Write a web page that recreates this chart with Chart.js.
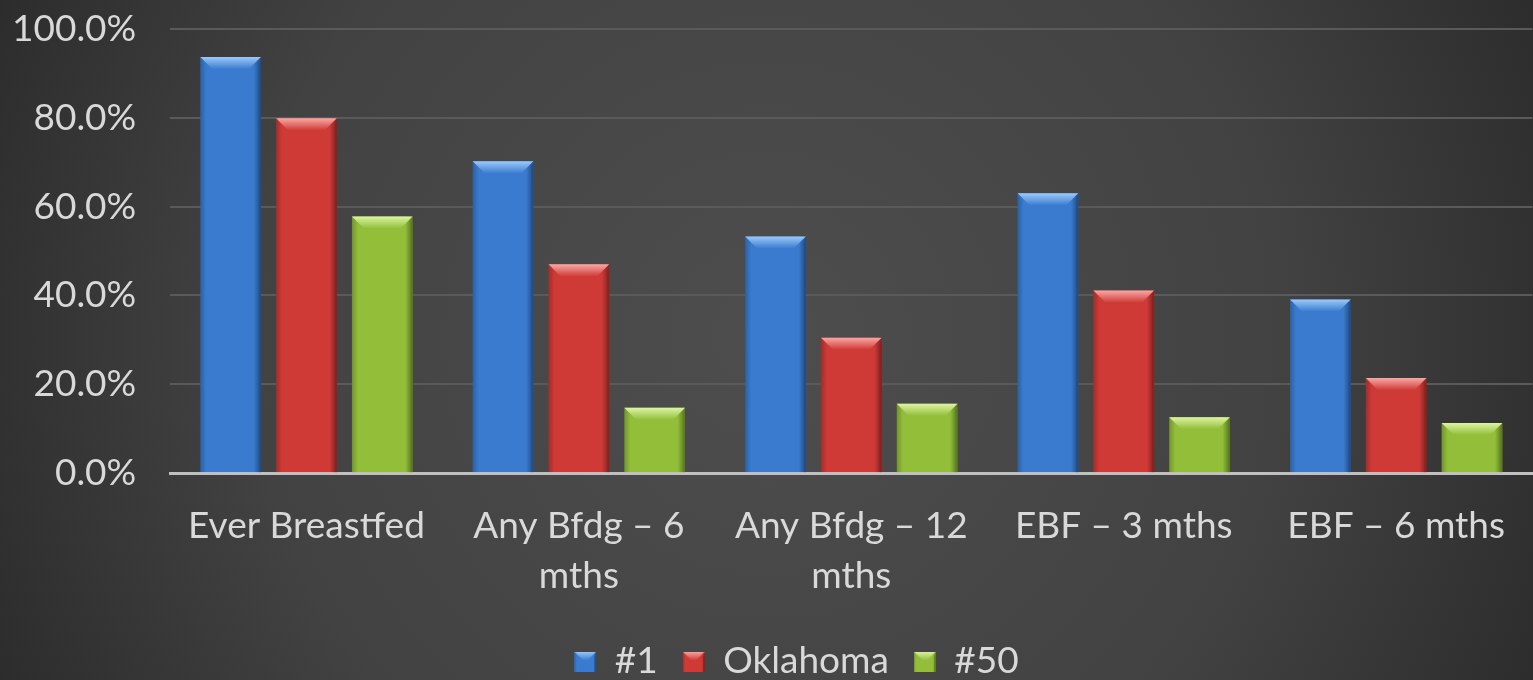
<!DOCTYPE html>
<html>
<head>
<meta charset="utf-8">
<script src="https://cdn.jsdelivr.net/npm/chart.js@4.4.1/dist/chart.umd.min.js"></script>
<style>
html,body{margin:0;padding:0;background:#333;}
#wrap{width:1533px;height:680px;position:relative;}
</style>
</head>
<body>
<div id="wrap"><canvas id="c" width="1533" height="680"></canvas></div>
<script>
const categories = ["Ever Breastfed", ["Any Bfdg \u2013 6", "mths"], ["Any Bfdg \u2013 12", "mths"], "EBF \u2013 3 mths", "EBF \u2013 6 mths"];
const seriesNames = ["#1", "Oklahoma", "#50"];
const rank1 = [93.7, 70.2, 53.3, 63.0, 39.1];
const oklahoma = [79.9, 47.0, 30.5, 41.1, 21.4];
const rank50 = [57.8, 14.7, 15.6, 12.6, 11.3];
const yTicks = [0, 20, 40, 60, 80, 100];

const colors = ["#3a7bd0", "#cf3a36", "#92be3a"];
const lightColors = ["#9ccaf9", "#f9a8a5", "#ddf5a2"];
const darkColors = ["#1f4f8f", "#8a2220", "#5c7f1e"];
const FONT = 'Lato';
const TEXT = '#d9d9d9';

const bgPlugin = {
  id: 'bg',
  beforeDraw(chart) {
    const ctx = chart.ctx, w = chart.width, h = chart.height;
    ctx.save();
    const g = ctx.createRadialGradient(w * 0.5, h * 0.5, 20, w * 0.5, h * 0.5, w * 0.6);
    g.addColorStop(0, '#4d4d4d');
    g.addColorStop(0.55, '#424242');
    g.addColorStop(1, '#272727');
    ctx.fillStyle = g;
    ctx.fillRect(0, 0, w, h);
    ctx.restore();
  }
};

function bevelBox(ctx, l, t, r, b, di, depth) {
  const d = Math.min(depth, (b - t) / 2);
  const hg = ctx.createLinearGradient(l, 0, r, 0);
  hg.addColorStop(0, 'rgba(0,0,0,0.22)');
  hg.addColorStop(0.1, 'rgba(0,0,0,0.0)');
  hg.addColorStop(0.88, 'rgba(0,0,0,0.0)');
  hg.addColorStop(1, 'rgba(0,0,0,0.4)');
  ctx.fillStyle = hg;
  ctx.fillRect(l, t, r - l, b - t);
  const tg = ctx.createLinearGradient(0, t, 0, t + d);
  tg.addColorStop(0, lightColors[di]);
  tg.addColorStop(1, colors[di]);
  ctx.fillStyle = tg;
  ctx.beginPath();
  ctx.moveTo(l, t);
  ctx.lineTo(r, t);
  ctx.lineTo(r - d, t + d);
  ctx.lineTo(l + d, t + d);
  ctx.closePath();
  ctx.fill();
  ctx.fillStyle = darkColors[di];
  ctx.globalAlpha = 0.7;
  ctx.fillRect(r - 2, t + d * 0.5, 2, b - t - d * 0.5);
  ctx.globalAlpha = 1;
}

// legend marker images (bevelled squares)
const markerImgs = colors.map((c, i) => {
  const cv = document.createElement('canvas');
  cv.width = 22; cv.height = 20;
  const x = cv.getContext('2d');
  x.fillStyle = c;
  x.fillRect(0, 0, 22, 20);
  bevelBox(x, 0, 0, 22, 20, i, 9);
  return cv;
});

const LEGEND_SHIFT = 41;
const bevelPlugin = {
  id: 'bevel',
  afterUpdate(chart) {
    const lg = chart.legend;
    if (!lg) return;
    lg.left += LEGEND_SHIFT;
    lg.right += LEGEND_SHIFT;
  },
  afterDatasetsDraw(chart) {
    const ctx = chart.ctx;
    ctx.save();
    chart.data.datasets.forEach((ds, di) => {
      const meta = chart.getDatasetMeta(di);
      if (meta.hidden) return;
      meta.data.forEach(bar => {
        const p = bar.getProps(['x', 'y', 'base', 'width'], true);
        bevelBox(ctx, p.x - p.width / 2, p.y, p.x + p.width / 2, p.base, di, p.width * 0.2);
      });
    });
    ctx.restore();
  }
};

const ctx = document.getElementById('c').getContext('2d');
new Chart(ctx, {
  type: 'bar',
  data: {
    labels: categories,
    datasets: [
      { label: seriesNames[0], data: rank1, backgroundColor: colors[0] },
      { label: seriesNames[1], data: oklahoma, backgroundColor: colors[1] },
      { label: seriesNames[2], data: rank50, backgroundColor: colors[2] }
    ]
  },
  options: {
    responsive: false,
    animation: false,
    devicePixelRatio: 1,
    layout: { padding: { top: 29, right: 0, left: -22, bottom: -10 } },
    datasets: { bar: { categoryPercentage: 0.835, barPercentage: 0.8 } },
    plugins: {
      legend: {
        position: 'bottom',
        labels: {
          color: TEXT,
          font: { family: FONT, size: 37 },
          usePointStyle: true,
          pointStyleWidth: 22,
          boxWidth: 22,
          boxHeight: 20,
          padding: 25,
          generateLabels(chart) {
            return chart.data.datasets.map((ds, i) => ({
              text: ds.label,
              fillStyle: colors[i],
              strokeStyle: colors[i],
              lineWidth: 0,
              pointStyle: markerImgs[i],
              fontColor: TEXT,
              datasetIndex: i,
              hidden: false
            }));
          }
        }
      },
      tooltip: { enabled: false }
    },
    scales: {
      x: {
        grid: { display: false, drawTicks: false },
        border: { display: true, color: '#c0c0c0', width: 3 },
        afterFit(scale) { scale.height -= 11; },
        ticks: {
          color: TEXT,
          font: { family: FONT, size: 37, lineHeight: 1.35 },
          padding: 28,
          maxRotation: 0,
          autoSkip: false
        }
      },
      y: {
        min: 0,
        max: 100,
        afterBuildTicks(scale) { scale.ticks = yTicks.map(v => ({ value: v })); },
        afterFit(scale) { scale.paddingTop = 0; scale.paddingBottom = 0; },
        grid: { color: '#5a5a5a', lineWidth: 2, drawTicks: false },
        border: { display: false },
        ticks: {
          color: TEXT,
          font: { family: FONT, size: 37 },
          padding: 34,
          callback: v => v.toFixed(1) + '%'
        }
      }
    }
  },
  plugins: [bgPlugin, bevelPlugin]
});
</script>
</body>
</html>
